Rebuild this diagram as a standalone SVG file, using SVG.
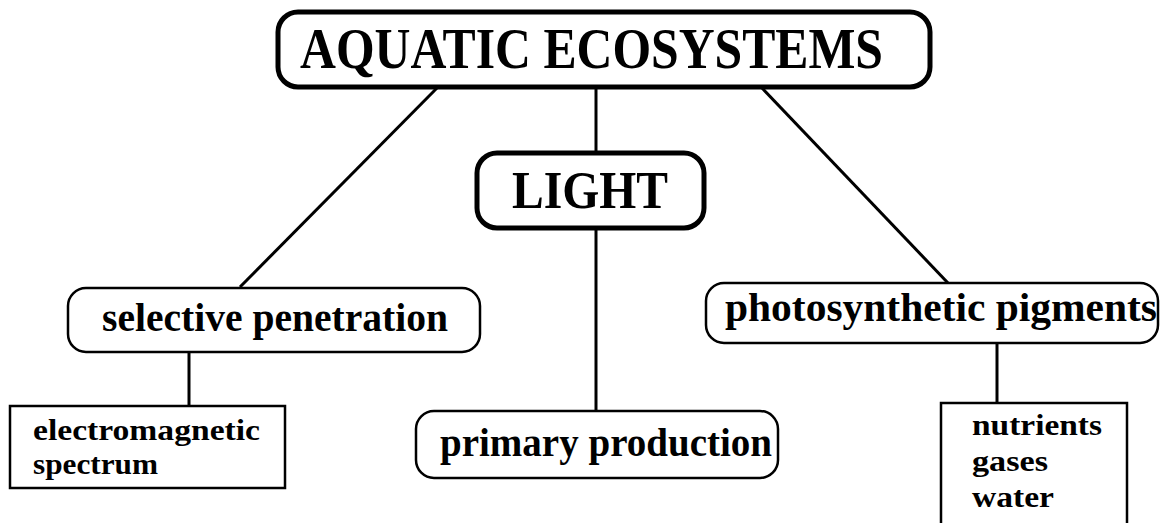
<svg xmlns="http://www.w3.org/2000/svg" width="1166" height="523" viewBox="0 0 1166 523">
<style>
.t{font-family:"Liberation Serif","DejaVu Serif",serif;font-weight:bold;fill:#000}
.thick{fill:#fff;stroke:#000;stroke-width:5}
.thin{fill:#fff;stroke:#000;stroke-width:2.5}
.c{stroke:#000;stroke-width:3;fill:none}
</style>
<rect width="1166" height="523" fill="#fff"/>
<g id="connectors">
<line class="c" x1="437" y1="88" x2="240" y2="287"/>
<line class="c" x1="596" y1="88" x2="596" y2="153"/>
<line class="c" x1="762" y1="88" x2="948" y2="283"/>
<line class="c" x1="596" y1="229" x2="596" y2="411"/>
<line class="c" x1="189" y1="352" x2="189" y2="406"/>
<line class="c" x1="997" y1="343" x2="997" y2="403"/>
</g>
<g id="aquatic">
<rect class="thick" x="278" y="12" width="652" height="75" rx="20"/>
<text class="t" x="300" y="68" font-size="57" textLength="583" lengthAdjust="spacingAndGlyphs">AQUATIC ECOSYSTEMS</text>
</g>
<g id="light">
<rect class="thick" x="477" y="153" width="227" height="75" rx="20"/>
<text class="t" x="512" y="208" font-size="53" textLength="156" lengthAdjust="spacingAndGlyphs">LIGHT</text>
</g>
<g id="selective">
<rect class="thin" x="68" y="288" width="412" height="64" rx="18"/>
<text class="t" x="102" y="331" font-size="39" textLength="346" lengthAdjust="spacingAndGlyphs">selective penetration</text>
</g>
<g id="photosynthetic">
<rect class="thin" x="706" y="283" width="452" height="60" rx="18"/>
<text class="t" x="725" y="321" font-size="39" textLength="432" lengthAdjust="spacingAndGlyphs">photosynthetic pigments</text>
</g>
<g id="electromagnetic">
<rect class="thin" x="10" y="406" width="275" height="82"/>
<text class="t" x="33" y="440" font-size="30" textLength="227" lengthAdjust="spacingAndGlyphs">electromagnetic</text>
<text class="t" x="33" y="474" font-size="30" textLength="125" lengthAdjust="spacingAndGlyphs">spectrum</text>
</g>
<g id="primary">
<rect class="thin" x="416" y="411" width="362" height="67" rx="18"/>
<text class="t" x="440" y="456" font-size="39" textLength="332" lengthAdjust="spacingAndGlyphs">primary production</text>
</g>
<g id="nutrients">
<rect class="thin" x="941" y="403" width="186" height="125"/>
<text class="t" x="972" y="435" font-size="30" textLength="130" lengthAdjust="spacingAndGlyphs">nutrients</text>
<text class="t" x="972" y="471" font-size="30" textLength="76" lengthAdjust="spacingAndGlyphs">gases</text>
<text class="t" x="972" y="507" font-size="30" textLength="82" lengthAdjust="spacingAndGlyphs">water</text>
</g>
</svg>
